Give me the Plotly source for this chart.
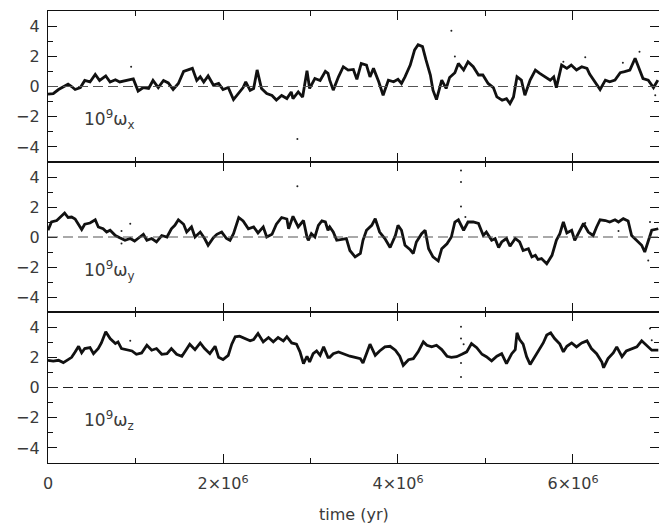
import plotly.graph_objects as go

# ---------------- data (time in units of 10^6 yr, omega in units of 1e-9) ----------------
TIME_X = [0.00, 0.06, 0.12, 0.175, 0.23, 0.27, 0.31, 0.37, 0.42, 0.48, 0.54, 0.59, 0.66, 0.71, 0.77, 0.82,
          0.92, 0.975, 1.03, 1.09, 1.15, 1.20, 1.26, 1.32, 1.375, 1.43, 1.49, 1.55, 1.60, 1.65, 1.70, 1.74,
          1.78, 1.83, 1.89, 1.95, 2.00, 2.06, 2.12, 2.18, 2.23, 2.26, 2.31, 2.35, 2.39, 2.44, 2.50, 2.56,
          2.61, 2.67, 2.73, 2.78, 2.80, 2.86, 2.91, 2.96, 2.99, 3.05, 3.11, 3.17, 3.20,
          3.22, 3.26, 3.32, 3.375, 3.43, 3.49, 3.53, 3.58, 3.64, 3.68, 3.72, 3.78, 3.83, 3.89, 3.95, 4.00,
          4.04, 4.08, 4.14, 4.19, 4.23, 4.28, 4.32, 4.37, 4.40, 4.44, 4.50, 4.55, 4.59, 4.65, 4.69, 4.75,
          4.80, 4.86, 4.92, 4.97, 5.03, 5.09, 5.13, 5.19, 5.24, 5.28, 5.32, 5.36, 5.41, 5.45, 5.51, 5.57,
          5.62, 5.68, 5.74, 5.78, 5.81, 5.87, 5.93, 5.98, 6.04, 6.10, 6.16, 6.19, 6.25, 6.31, 6.37, 6.42,
          6.48, 6.54, 6.59, 6.65, 6.71, 6.75, 6.80, 6.86, 6.92, 6.97]
OMEGA_X = [-0.5, -0.47, -0.2, 0.0, 0.15, 0.0, -0.2, -0.07, 0.4, 0.3, 0.8, 0.4, 0.7, 0.3, 0.45, 0.3,
           0.4, 0.5, -0.3, -0.07, -0.13, 0.4, -0.07, 0.4, 0.24, -0.2, 0.2, 1.0, 1.1, 1.2, 0.4, 0.65,
           0.3, 0.7, 0.1, 0.2, -0.2, -0.07, -0.87, -0.47, -0.07, 0.3, -0.25, -0.13, 1.1, -0.13, -0.47, -0.6,
           -0.9, -0.6, -0.8, -0.36, -0.8, -0.36, -0.7, 1.05, -0.13, 0.53, 0.4, 1.0, 0.87,
           0.42, -0.24, 0.64, 1.31, 1.09, 1.13, 0.47, 1.53, 1.42, 0.64, 1.2, 0.31, -0.58, 0.42, 0.31, 0.47,
           0.2, 0.64, 1.42, 2.42, 2.76, 2.64, 1.76, 0.76, -0.24, -0.87, 0.42, -0.13, 0.6, 0.91, 1.53, 1.09,
           1.64, 1.31, 0.76, 0.76, 0.2, -0.07, -0.69, -0.91, -0.8, -1.13, -0.69, 0.64, 0.42, -0.58, 0.42, 1.09,
           0.87, 0.64, 0.42, 0.64, -0.07, 1.42, 1.2, 1.42, 1.09, 1.31, 1.2, 0.82, 0.31, -0.2, 0.42, 0.31,
           0.42, 0.91, 0.98, 1.09, 1.87, 1.31, 0.53, 0.42, -0.07, 0.42]

TIME_Y = [0.00, 0.04, 0.10, 0.14, 0.19, 0.23, 0.27, 0.31, 0.35, 0.385, 0.42, 0.48, 0.54, 0.575, 0.63, 0.67,
          0.71, 0.77, 0.82, 0.88, 0.94, 0.99, 1.05, 1.09, 1.13, 1.185, 1.24, 1.30, 1.36, 1.41, 1.45, 1.49,
          1.55, 1.585, 1.64, 1.68, 1.74, 1.79, 1.83, 1.89, 1.93, 1.985, 2.04, 2.08, 2.12, 2.18, 2.23, 2.29,
          2.35, 2.40, 2.46, 2.50, 2.56, 2.61, 2.67, 2.73, 2.75, 2.80, 2.86, 2.92, 2.96, 2.975, 3.01, 3.05,
          3.09, 3.13, 3.17, 3.20,
          3.22, 3.26, 3.30, 3.36, 3.41, 3.45, 3.51, 3.57, 3.60, 3.64, 3.70, 3.74, 3.79, 3.85, 3.91, 3.97,
          4.00, 4.04, 4.08, 4.14, 4.175, 4.21, 4.27, 4.31, 4.35, 4.40, 4.46, 4.50, 4.56, 4.61, 4.65, 4.69,
          4.75, 4.80, 4.86, 4.92, 4.975, 5.01, 5.07, 5.11, 5.15, 5.185, 5.24, 5.28, 5.34, 5.39, 5.43, 5.49,
          5.53, 5.57, 5.60, 5.64, 5.70, 5.76, 5.81, 5.85, 5.89, 5.93, 5.985, 6.02, 6.08, 6.12, 6.175, 6.23,
          6.27, 6.31, 6.37, 6.42, 6.48, 6.52, 6.575, 6.63, 6.67, 6.73, 6.785, 6.82, 6.86, 6.90, 6.975]
OMEGA_Y = [0.45, 1.0, 1.1, 1.33, 1.6, 1.3, 1.33, 1.2, 0.78, 0.5, 0.85, 0.93, 1.15, 0.67, 0.55, 0.33,
           0.45, 0.1, -0.05, -0.22, -0.1, -0.27, 0.0, 0.18, -0.22, -0.1, -0.33, 0.1, 0.0, 0.55, 0.78, 1.15,
           0.85, 0.33, 0.67, 0.0, 0.33, -0.1, -0.55, -0.05, 0.18, 0.33, -0.1, -0.22, 0.22, 1.3, 1.07, 0.55,
           0.67, 0.27, 0.67, 0.0, 0.18, 0.85, 1.3, 1.2, 0.55, 1.38, 0.67, 1.1, 0.0, -0.22, 0.22, 0.0,
           0.78, 1.07, 1.0, 0.45,
           0.67, 0.33, -0.22, -0.18, -0.11, -0.9, -1.33, -1.1, -0.22, 0.45, 0.78, 1.22, 0.33, -0.1, -0.7, 0.1,
           0.78, 0.45, -0.55, -0.85, -1.1, -0.33, 0.22, 0.45, -0.78, -1.33, -1.6, -0.78, -0.45, 0.0, 1.0, 1.15,
           0.45, 1.0, 1.0, 0.9, 0.1, 0.33, -0.22, -0.11, -0.7, -0.33, -0.1, -0.62, -0.1, -0.33, -0.9, -0.78,
           -1.33, -1.22, -1.5, -1.44, -1.78, -1.22, -0.22, 0.22, 1.0, 0.27, 0.45, -0.22, 0.45, 0.9, 0.33, 0.1,
           0.67, 1.15, 1.1, 1.0, 1.15, 1.0, 1.22, 1.07, 0.1, -0.22, -0.55, -1.0, -0.22, 0.45, 0.55]

TIME_Z = [0.00, 0.06, 0.12, 0.175, 0.23, 0.27, 0.31, 0.35, 0.385, 0.42, 0.48, 0.52, 0.575, 0.61, 0.66, 0.71,
          0.77, 0.80, 0.84, 0.90, 0.96, 1.01, 1.07, 1.13, 1.185, 1.24, 1.30, 1.36, 1.41, 1.47, 1.53, 1.57,
          1.62, 1.68, 1.74, 1.79, 1.85, 1.91, 1.95, 2.00, 2.06, 2.10, 2.14, 2.19, 2.25, 2.31, 2.35, 2.40,
          2.46, 2.52, 2.575, 2.63, 2.69, 2.73, 2.785, 2.84, 2.88, 2.92, 2.96, 2.99, 3.03, 3.07, 3.11, 3.15,
          3.20,
          3.22, 3.26, 3.32, 3.39, 3.45, 3.51, 3.57, 3.60, 3.64, 3.68, 3.74, 3.79, 3.85, 3.91, 3.97, 4.02,
          4.06, 4.12, 4.175, 4.23, 4.29, 4.33, 4.385, 4.44, 4.50, 4.56, 4.61, 4.67, 4.73, 4.785, 4.84, 4.90,
          4.96, 5.01, 5.07, 5.13, 5.185, 5.24, 5.30, 5.34, 5.36, 5.39, 5.43, 5.47, 5.51, 5.55, 5.60, 5.66,
          5.70, 5.745, 5.79, 5.85, 5.89, 5.93, 5.985, 6.04, 6.10, 6.16, 6.21, 6.27, 6.33, 6.35, 6.40, 6.46,
          6.50, 6.56, 6.61, 6.67, 6.73, 6.785, 6.84, 6.90, 6.975]
OMEGA_Z = [1.8, 1.75, 1.8, 1.65, 1.85, 2.0, 2.35, 2.73, 2.3, 2.58, 2.64, 2.24, 2.58, 2.95, 3.69, 3.24,
           2.91, 3.02, 2.58, 2.51, 2.42, 2.2, 2.29, 2.8, 2.47, 2.58, 2.2, 2.24, 2.58, 2.2, 2.07, 2.42,
           2.87, 2.51, 2.95, 2.58, 2.24, 2.73, 2.0, 1.85, 2.13, 2.87, 3.36, 3.4, 3.24, 3.09, 3.18, 3.58,
           3.02, 3.31, 3.02, 3.31, 3.09, 3.36, 2.95, 2.87, 2.36, 1.58, 2.07, 1.69, 2.24, 2.42, 2.13, 2.69,
           2.0,
           2.0, 2.24, 2.35, 2.2, 2.07, 2.0, 1.91, 1.62, 2.24, 2.87, 2.13, 2.42, 2.69, 2.73, 2.47, 2.07,
           1.47, 1.84, 1.91, 2.36, 3.02, 2.8, 2.69, 2.8, 2.51, 2.07, 2.0, 2.04, 2.2, 2.36, 2.91, 2.64,
           2.2, 2.04, 1.76, 2.07, 2.24, 1.58, 2.24, 2.51, 3.62, 3.18, 2.87, 2.04, 1.53, 1.91, 2.47, 2.95,
           3.47, 3.62, 3.24, 2.87, 2.36, 2.73, 2.95, 2.69, 2.95, 3.09, 2.58, 2.24, 1.69, 1.31, 1.91, 2.29,
           2.69, 2.04, 2.42, 2.58, 2.69, 3.09, 2.8, 2.47, 2.47]

# stray isolated points
DOTS_X_T = [0.95, 2.85, 4.61, 4.65, 5.89, 6.14, 6.57, 6.76, 6.94]
DOTS_X_V = [1.3, -3.47, 3.7, 1.98, 1.64, 1.93, 1.58, 2.3, -0.58]
DOTS_Y_T = [0.84, 0.84, 0.94, 2.85, 4.72, 4.72, 4.72, 4.77, 6.14, 6.52, 6.88, 6.86]
DOTS_Y_V = [0.4, -0.44, 0.89, 3.38, 4.44, 3.67, 2.04, 1.33, 0.93, 0.4, 1.0, -1.56]
DOTS_Z_T = [0.94, 4.72, 4.72, 4.72, 4.72, 4.75, 6.88, 6.90]
DOTS_Z_V = [3.09, 4.02, 3.24, 1.62, 0.69, 2.87, 3.9, 3.13]

PANEL_LABELS = ["10<sup>9</sup>ω<sub>x</sub>", "10<sup>9</sup>ω<sub>y</sub>", "10<sup>9</sup>ω<sub>z</sub>"]
X_TICKS = [0, 2e6, 4e6, 6e6]
X_TICK_TEXT = ["0", "2×10<sup>6</sup>", "4×10<sup>6</sup>", "6×10<sup>6</sup>"]
X_MINOR = [1e6, 3e6, 5e6]
Y_TICKS = [-4, -2, 0, 2, 4]
Y_TICK_TEXT = ["−4", "−2", "0", "2", "4"]
Y_MINOR = [-3, -1, 1, 3]
X_LABEL = "time (yr)"
YR = 1e6

FONT = "DejaVu Sans"
TXT = "#3a3a3a"

series = [(TIME_X, OMEGA_X, DOTS_X_T, DOTS_X_V),
          (TIME_Y, OMEGA_Y, DOTS_Y_T, DOTS_Y_V),
          (TIME_Z, OMEGA_Z, DOTS_Z_T, DOTS_Z_V)]

fig = go.Figure()
H = 452.0
domains = [[301 / H, 1.0], [151 / H, 301 / H], [0.0, 151 / H]]
XMAX = 6.983e6

for i, (t, v, dt, dv) in enumerate(series):
    n = "" if i == 0 else str(i + 1)
    fig.add_trace(go.Scatter(x=[a * YR for a in t], y=v, mode="lines",
                             line=dict(color="#111111", width=2.8),
                             xaxis="x" + n, yaxis="y" + n, showlegend=False))
    fig.add_trace(go.Scatter(x=[a * YR for a in dt], y=dv, mode="markers",
                             marker=dict(color="#222222", size=2),
                             xaxis="x" + n, yaxis="y" + n, showlegend=False))
    last = (i == 2)
    fig.layout["xaxis" + n] = dict(
        domain=[0, 1], range=[0, XMAX], anchor="y" + n,
        showline=True, linecolor="#111111", linewidth=1.3, mirror="ticks",
        ticks="inside", ticklen=9, tickwidth=1, tickcolor="#111111",
        tickvals=X_TICKS, ticktext=X_TICK_TEXT, showticklabels=last,
        minor=dict(tickvals=X_MINOR, ticks="inside", ticklen=5, tickcolor="#111111"),
        showgrid=False, zeroline=False,
        tickfont=dict(family=FONT, size=16, color=TXT),
        ticklabelstandoff=6,
    )
    fig.layout["yaxis" + n] = dict(
        domain=domains[i], range=[-5, 5], anchor="x" + n,
        showline=True, linecolor="#111111", linewidth=1.3, mirror="ticks",
        ticks="inside", ticklen=9, tickwidth=1, tickcolor="#111111",
        tickvals=Y_TICKS, ticktext=Y_TICK_TEXT,
        minor=dict(tickvals=Y_MINOR, ticks="inside", ticklen=5, tickcolor="#111111"),
        showgrid=False, zeroline=False,
        tickfont=dict(family=FONT, size=16, color=TXT),
        ticklabelstandoff=4,
    )
    fig.add_shape(type="line", xref="x" + n + " domain", yref="y" + n,
                  x0=0, x1=1, y0=0, y1=0,
                  line=dict(color="#555555" if i < 2 else "#222222", width=1.2, dash="10px,5px"))
    fig.add_annotation(x=0.39 * YR, y=-2.2, xref="x" + n, yref="y" + n,
                       text=PANEL_LABELS[i], showarrow=False, xanchor="left", yanchor="middle",
                       font=dict(family=FONT, size=17, color=TXT))

fig.add_annotation(x=0.5, y=-51 / H, xref="paper", yref="paper", text=X_LABEL,
                   showarrow=False, xanchor="center", yanchor="middle",
                   font=dict(family=FONT, size=16, color=TXT))

fig.update_layout(width=659, height=531, margin=dict(l=48, r=0, t=11, b=68),
                  plot_bgcolor="white", paper_bgcolor="white")
fig.write_html("out.html")
